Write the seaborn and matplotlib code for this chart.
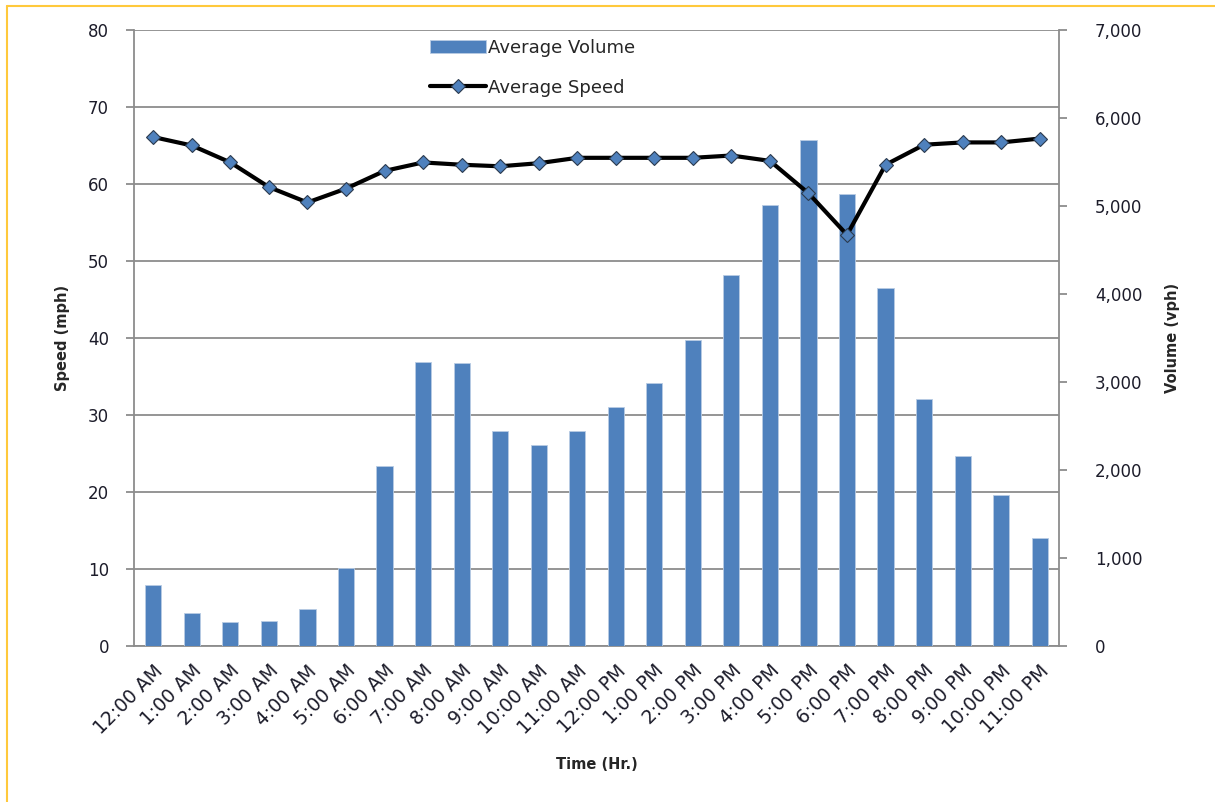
import numpy as np
import matplotlib
matplotlib.use("Agg")
import matplotlib.pyplot as plt
import seaborn as sns
from matplotlib.ticker import FuncFormatter
from matplotlib.lines import Line2D

hours = ["12:00 AM", "1:00 AM", "2:00 AM", "3:00 AM", "4:00 AM", "5:00 AM",
         "6:00 AM", "7:00 AM", "8:00 AM", "9:00 AM", "10:00 AM", "11:00 AM",
         "12:00 PM", "1:00 PM", "2:00 PM", "3:00 PM", "4:00 PM", "5:00 PM",
         "6:00 PM", "7:00 PM", "8:00 PM", "9:00 PM", "10:00 PM", "11:00 PM"]
volume = [690, 378, 269, 287, 416, 889, 2050, 3225, 3211, 2447, 2284, 2447,
          2719, 2992, 3472, 4212, 5007, 5755, 5136, 4065, 2810, 2156, 1721, 1233]
speed = [66.1, 65.0, 62.8, 59.6, 57.6, 59.4, 61.7, 62.8, 62.5, 62.3, 62.7, 63.4,
         63.4, 63.4, 63.4, 63.7, 63.0, 58.8, 53.4, 62.5, 65.1, 65.4, 65.4, 65.9]
speed_ticks = list(range(0, 81, 10))
volume_ticks = list(range(0, 7001, 1000))

sns.set_theme(style="white")
plt.rcParams["font.family"] = ["DejaVu Sans"]

BLUE = "#4F81BD"
GRID = "#8c8c8c"
TXT = "#1c1c2a"

fig = plt.figure(figsize=(12.15, 8.02), dpi=100)
ax_s = fig.add_axes([0.1103, 0.1945, 0.7613, 0.7681])
ax_v = ax_s.twinx()
ax_l = ax_s.twinx()

# bars (volume, right axis)
sns.barplot(x=hours, y=volume, ax=ax_v, color=BLUE, saturation=1, width=0.42,
            edgecolor="#b8cce4", linewidth=0.6)
# line (speed, left axis scale)
sns.lineplot(x=np.arange(len(hours)), y=speed, ax=ax_l, color="black", lw=3,
             marker="D", markersize=7.5, markerfacecolor=BLUE,
             markeredgecolor="#2b3a4e", markeredgewidth=0.8)

# speed axis
ax_s.set_ylim(speed_ticks[0], speed_ticks[-1])
ax_s.set_yticks(speed_ticks)
ax_s.yaxis.grid(True, color=GRID, lw=1.3)
ax_s.xaxis.grid(False)
ax_s.set_axisbelow(True)
ax_l.set_ylim(speed_ticks[0], speed_ticks[-1])
ax_l.set_yticks([])
ax_l.grid(False)

# volume axis
ax_v.set_ylim(volume_ticks[0], volume_ticks[-1])
ax_v.set_yticks(volume_ticks)
ax_v.yaxis.set_major_formatter(FuncFormatter(lambda v, p: f"{int(v):,}"))
ax_v.grid(False)
ax_v.set_ylabel("")

# x axis
n = len(hours)
ax_s.set_xlim(-0.5, n - 0.5)
ax_s.set_xticks(np.arange(n + 1) - 0.5)
ax_s.set_xticklabels([""] * (n + 1))
ax_s.set_xticks(np.arange(n), minor=True)
ax_s.set_xticklabels(hours, minor=True, rotation=45, ha="right", va="top",
                     rotation_mode="anchor", fontsize=13.5, color=TXT)
ax_s.tick_params(axis="x", which="minor", length=0, pad=11)
ax_s.tick_params(axis="x", which="major", length=6, width=1.3, color=GRID,
                 direction="out")
ax_s.tick_params(axis="y", length=6, width=1.3, color=GRID, direction="out",
                 labelsize=12, labelcolor=TXT, pad=12, left=True)
ax_v.tick_params(axis="y", length=6, width=1.3, color=GRID, direction="out",
                 labelsize=12, labelcolor=TXT, pad=20, right=True)

for sp in ["top", "right"]:
    ax_s.spines[sp].set_visible(False)
for sp in ["left", "bottom"]:
    ax_s.spines[sp].set_color(GRID)
    ax_s.spines[sp].set_linewidth(1.3)
for sp in ["top", "left", "bottom"]:
    ax_v.spines[sp].set_visible(False)
ax_v.spines["right"].set_color(GRID)
ax_v.spines["right"].set_linewidth(1.3)
for sp in ax_l.spines.values():
    sp.set_visible(False)

ax_s.set_ylabel("Speed (mph)", fontsize=10.5, fontweight="bold", labelpad=13)
ax_v.set_ylabel("Volume (vph)", fontsize=10.5, fontweight="bold", labelpad=16)
ax_s.set_xlabel("Time (Hr.)", fontsize=10.5, fontweight="bold", labelpad=14)

handles = [ax_v.containers[0].patches[0], ax_l.lines[0]]
ax_l.legend(handles, ["Average Volume", "Average Speed"], loc="upper left",
            bbox_to_anchor=(0.31, 1.0), frameon=False, fontsize=13,
            handlelength=3.1, handletextpad=0.1, labelspacing=1.2,
            borderaxespad=0.1)

# yellow frame
fig.add_artist(Line2D([7 / 1215, 7 / 1215], [0, 1 - 6 / 802], color="#FFC93C",
                      lw=1.5, transform=fig.transFigure))
fig.add_artist(Line2D([7 / 1215, 1], [1 - 6 / 802, 1 - 6 / 802], color="#FFC93C",
                      lw=1.5, transform=fig.transFigure))

fig.savefig("out.png", dpi=100)
